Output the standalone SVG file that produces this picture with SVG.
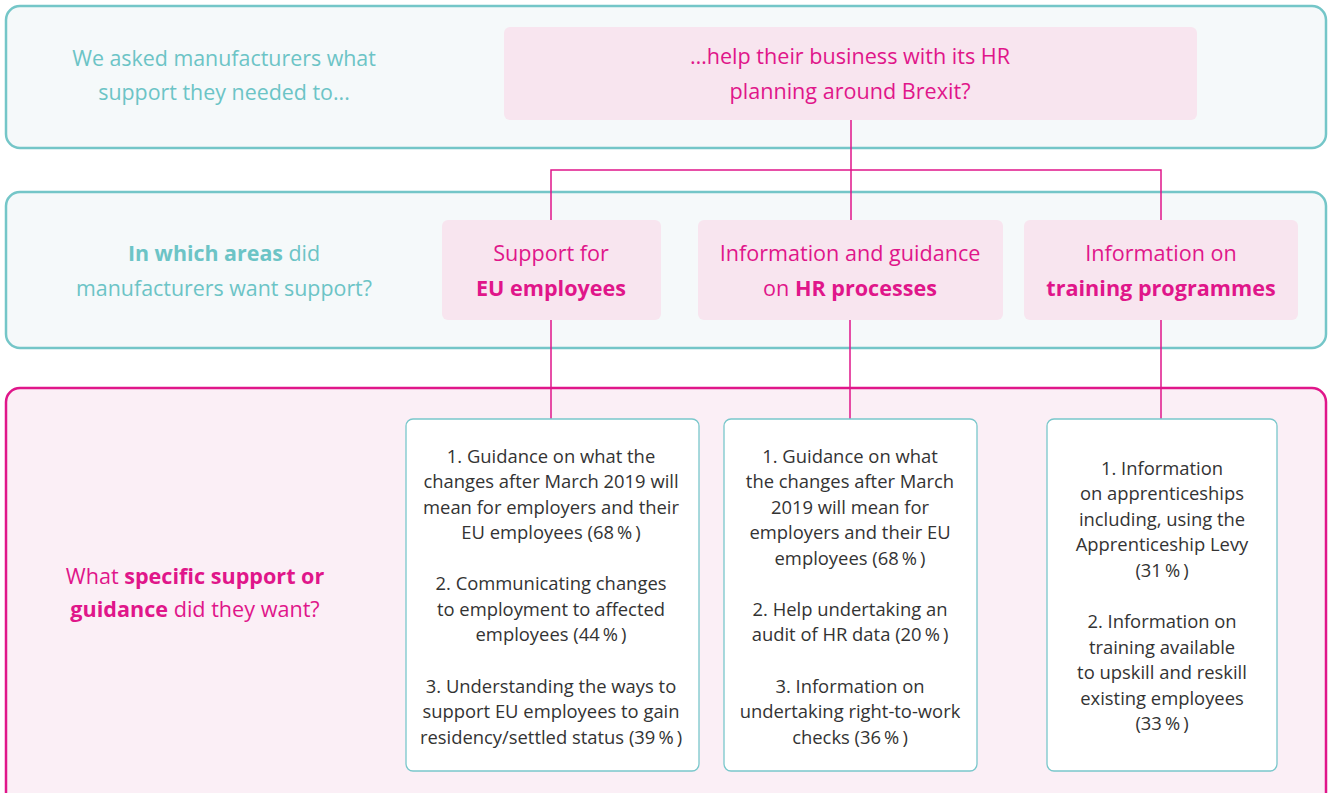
<svg xmlns="http://www.w3.org/2000/svg" width="1331" height="793" viewBox="0 0 1331 793">
<style>
.panelT{fill:#F5F9FA;stroke:#74C6C8;stroke-width:2.5}
.panelM{fill:#FBEFF6;stroke:#E0168A;stroke-width:2.5}
.pbox{fill:#F8E5EF}
.wbox{fill:#FFFFFF;stroke:#79C7CB;stroke-width:1.3}
.conn{stroke:#E0168A;stroke-width:1.5;fill:none}
text{font-family:"Open Sans","Liberation Sans",sans-serif;text-anchor:middle}
.teal{fill:#6CC4C6;font-size:21.4px}
.mag{fill:#E0168A;font-size:21.6px}
.body{fill:#333333;font-size:18.4px}
.b{font-weight:bold}
</style>
<g id="panel-top">
<rect class="panelT" x="6" y="6" width="1320" height="142" rx="14"/>
<text class="teal" x="224" y="66">We asked manufacturers what</text>
<text class="teal" x="224" y="100">support they needed to...</text>
</g>
<g id="panel-areas">
<rect class="panelT" x="6" y="192" width="1320" height="156" rx="14"/>
<text class="teal" x="224" y="261"><tspan class="b">In which areas</tspan> did</text>
<text class="teal" x="224" y="296">manufacturers want support?</text>
</g>
<g id="panel-specific">
<rect class="panelM" x="6" y="388" width="1320" height="420" rx="14"/>
<text class="mag" x="195" y="584">What <tspan class="b">specific support or</tspan></text>
<text class="mag" x="195" y="617"><tspan class="b">guidance</tspan> did they want?</text>
</g>
<g id="node-question">
<rect class="pbox" x="504" y="27" width="693" height="93" rx="6"/>
<text class="mag" x="850" y="64">…help their business with its HR</text>
<text class="mag" x="850" y="99">planning around Brexit?</text>
</g>
<g id="node-eu">
<rect class="pbox" x="442" y="220" width="219" height="100" rx="6"/>
<text class="mag" x="551" y="261">Support for</text>
<text class="mag b" x="551" y="296">EU employees</text>
</g>
<g id="node-hr">
<rect class="pbox" x="698" y="220" width="305" height="100" rx="6"/>
<text class="mag" x="850" y="261">Information and guidance</text>
<text class="mag" x="850" y="296">on <tspan class="b">HR processes</tspan></text>
</g>
<g id="node-training">
<rect class="pbox" x="1024" y="220" width="274" height="100" rx="6"/>
<text class="mag" x="1161" y="261">Information on</text>
<text class="mag b" x="1161" y="296">training programmes</text>
</g>
<g id="connectors">
<path class="conn" d="M851 120V220M551 220V170H1161V220"/>
<path class="conn" d="M551 320V419M850 320V419M1161 320V419"/>
</g>
<g id="node-eu-detail">
<rect class="wbox" x="406" y="419" width="293" height="352" rx="7"/>
<text class="body" x="551" y="463">1. Guidance on what the</text>
<text class="body" x="551" y="488">changes after March 2019 will</text>
<text class="body" x="551" y="514">mean for employers and their</text>
<text class="body" x="551" y="539">EU employees (68&#8201;%&#8201;)</text>
<text class="body" x="551" y="590">2. Communicating changes</text>
<text class="body" x="551" y="616">to employment to affected</text>
<text class="body" x="551" y="641">employees (44&#8201;%&#8201;)</text>
<text class="body" x="551" y="693">3. Understanding the ways to</text>
<text class="body" x="551" y="718">support EU employees to gain</text>
<text class="body" x="551" y="744">residency/settled status (39&#8201;%&#8201;)</text>
</g>
<g id="node-hr-detail">
<rect class="wbox" x="724" y="419" width="253" height="352" rx="7"/>
<text class="body" x="850" y="463">1. Guidance on what</text>
<text class="body" x="850" y="488">the changes after March</text>
<text class="body" x="850" y="514">2019 will mean for</text>
<text class="body" x="850" y="539">employers and their EU</text>
<text class="body" x="850" y="565">employees (68&#8201;%&#8201;)</text>
<text class="body" x="850" y="616">2. Help undertaking an</text>
<text class="body" x="850" y="641">audit of HR data (20&#8201;%&#8201;)</text>
<text class="body" x="850" y="693">3. Information on</text>
<text class="body" x="850" y="718">undertaking right-to-work</text>
<text class="body" x="850" y="744">checks (36&#8201;%&#8201;)</text>
</g>
<g id="node-training-detail">
<rect class="wbox" x="1047" y="419" width="230" height="352" rx="7"/>
<text class="body" x="1162" y="475">1. Information</text>
<text class="body" x="1162" y="500">on apprenticeships</text>
<text class="body" x="1162" y="526">including, using the</text>
<text class="body" x="1162" y="551">Apprenticeship Levy</text>
<text class="body" x="1162" y="577">(31&#8201;%&#8201;)</text>
<text class="body" x="1162" y="628">2. Information on</text>
<text class="body" x="1162" y="654">training available</text>
<text class="body" x="1162" y="679">to upskill and reskill</text>
<text class="body" x="1162" y="705">existing employees</text>
<text class="body" x="1162" y="730">(33&#8201;%&#8201;)</text>
</g>
</svg>
